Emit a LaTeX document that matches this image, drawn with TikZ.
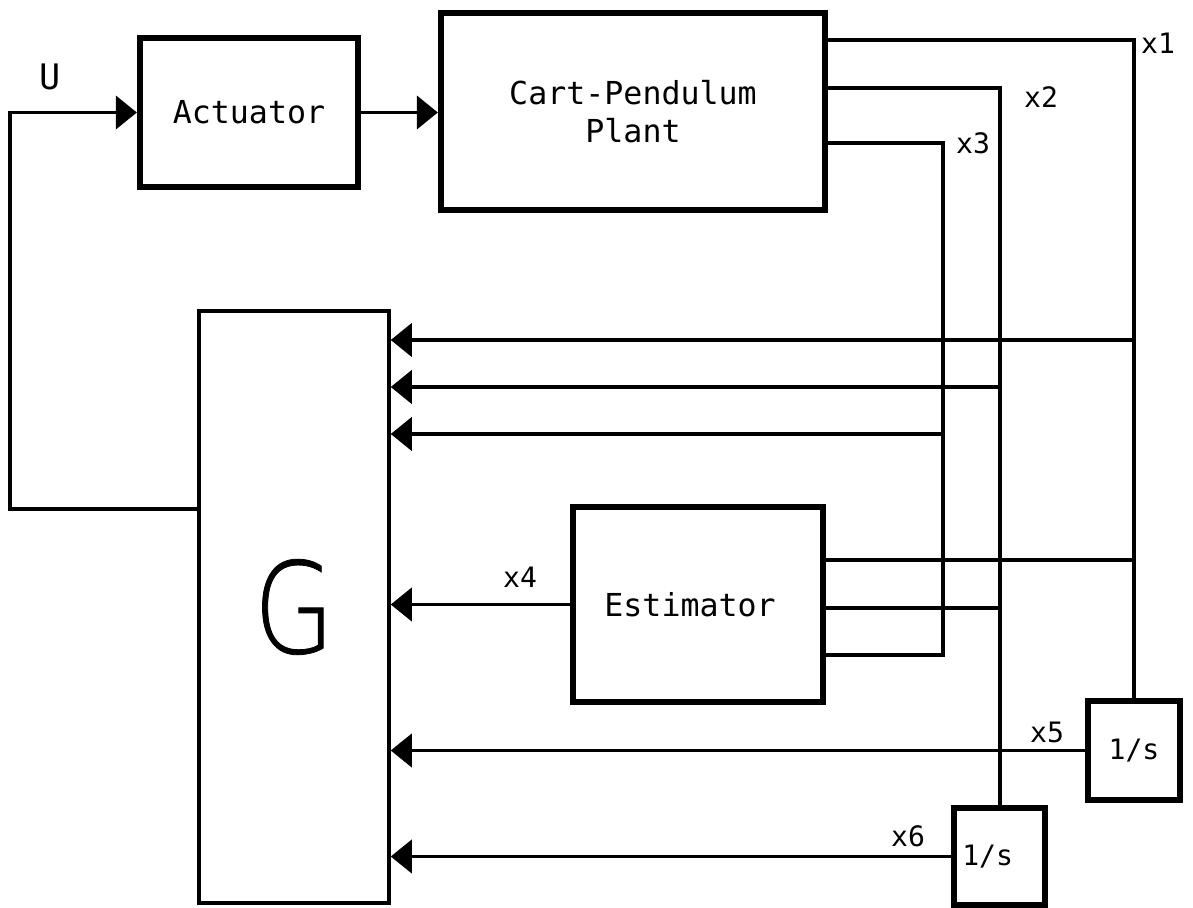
\documentclass[tikz,border=0pt]{standalone}
\usepackage{fontspec}
\setmainfont{DejaVu Sans Mono}
\newfontfamily\gfont{DejaVu Sans ExtraLight}[FakeStretch=0.82, FakeBold=0.6]
\usetikzlibrary{arrows.meta}
\tikzset{
  thickbox/.style={draw, rectangle, line width=3.6pt, inner sep=0pt, font=\fontsize{18}{22}\selectfont, align=center},
  thinbox/.style={draw, rectangle, line width=2pt, inner sep=0pt},
  conn/.style={line width=1.8pt},
  arr/.style={conn, -{Triangle[length=12pt,width=19pt]}},
  lbl/.style={inner sep=0pt, font=\fontsize{16}{18}\selectfont}
}
\begin{document}
\begin{tikzpicture}[x=0.02cm, y=-0.02cm]
\useasboundingbox (0,0) rectangle (1193,908);
% blocks
\node[thickbox, minimum width=218*0.02cm, minimum height=149*0.02cm] (act) at (249,112.5) {Actuator};
\node[thickbox, minimum width=384*0.02cm, minimum height=197*0.02cm] (plant) at (633,111.5) {Cart-Pendulum\\Plant\hspace*{0pt}};
\node[thinbox, minimum width=190*0.02cm, minimum height=592*0.02cm, font=\gfont\fontsize{72}{80}\selectfont] (G) at (294,607) {G};
\node[thickbox, minimum width=250*0.02cm, minimum height=195*0.02cm] (est) at (698,604.5) {Estimator\hspace*{9pt}};
\node[thickbox, minimum width=92*0.02cm, minimum height=99*0.02cm, font=\fontsize{16}{18}\selectfont] (s1) at (1134,750.5) {1/s};
\node[thickbox, minimum width=91*0.02cm, minimum height=97*0.02cm, font=\fontsize{16}{18}\selectfont] (s2) at (999.5,856.5) {1/s\hspace*{13.5pt}};
% labels
\node[lbl, font=\fontsize{20}{22}\selectfont] (lu) at (50,77) {U};
\node[lbl] (l1) at (1158,43) {x1};
\node[lbl] (l2) at (1041,97) {x2};
\node[lbl] (l3) at (973,143) {x3};
\node[lbl] (l4) at (520,577) {x4};
\node[lbl] (l5) at (1047,732) {x5};
\node[lbl] (l6) at (908,836) {x6};
% coordinates
\coordinate (uA) at (10,509);
\coordinate (c1) at (1134,40);
\coordinate (c2) at (1000,88);
\coordinate (c3) at (943,143);
\coordinate (c3b) at (943,655);
\coordinate (f1) at (1134,340);
\coordinate (f2) at (1000,387);
\coordinate (f3) at (943,434);
\coordinate (e1) at (1134,560);
\coordinate (e2) at (1000,608);
% connectors
\draw[arr] (G.west |- uA) -- (uA) |- (act.west);
\draw[arr] (act.east) -- (act.east -| plant.west);
\draw[conn] (plant.east |- c1) -- (c1) -- (s1.north);
\draw[conn] (plant.east |- c2) -- (c2) -- (c2 |- s2.north);
\draw[conn] (plant.east |- c3) -- (c3) -- (c3b) -- (c3b -| est.east);
\draw[arr] (f1) -- (f1 -| G.east);
\draw[arr] (f2) -- (f2 -| G.east);
\draw[arr] (f3) -- (f3 -| G.east);
\draw[conn] (est.east |- e1) -- (e1);
\draw[conn] (est.east |- e2) -- (e2);
\draw[arr] (est.west) -- (est.west -| G.east);
\draw[arr] (s1.west) -- (s1.west -| G.east);
\draw[arr] (s2.west) -- (s2.west -| G.east);
\end{tikzpicture}
\end{document}
